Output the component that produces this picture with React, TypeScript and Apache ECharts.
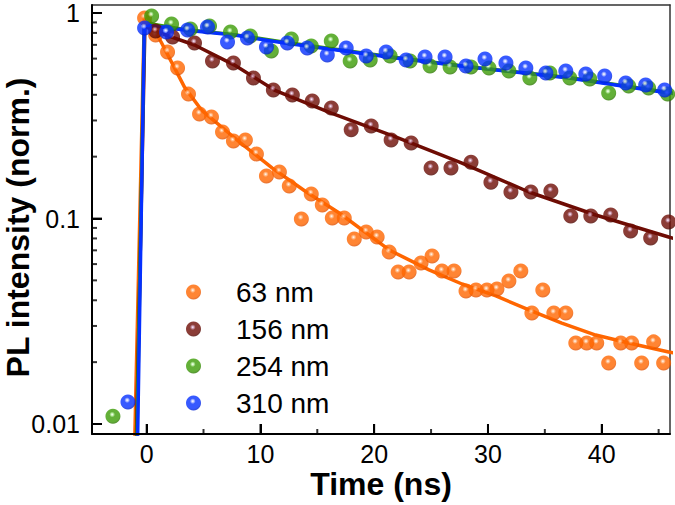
import React, { useEffect, useRef } from "react";
import * as echarts from "echarts";

// ---- Data ----
const seriesNames = ["63 nm", "156 nm", "254 nm", "310 nm"];
const seriesColors = ["#ff6600", "#6e0c04", "#3c9c06", "#0530ff"];
const seriesDark = ["#e05000", "#500600", "#2c7800", "#0020d0"];
const seriesLight = ["#ffc090", "#c890b0", "#b8f0a0", "#b8c4ff"];

const t63 = [-0.18, 0.79, 1.84, 2.72, 3.68, 4.65, 5.7, 6.67, 7.63, 8.68, 9.65, 10.53, 11.67, 12.54, 13.6, 14.47, 15.44, 16.32, 17.37, 18.25, 19.3, 20.26, 21.32, 22.11, 23.07, 24.12, 25.09, 25.96, 27.02, 28.07, 28.95, 29.91, 30.79, 31.84, 32.89, 33.86, 34.82, 35.79, 36.84, 37.72, 38.68, 39.56, 40.61, 41.67, 42.63, 43.51, 44.56, 45.44];
const i63 = [0.946, 0.781, 0.646, 0.54, 0.403, 0.3225, 0.312, 0.2636, 0.2383, 0.241, 0.206, 0.161, 0.1684, 0.1439, 0.0995, 0.1316, 0.1163, 0.1006, 0.1006, 0.0795, 0.086, 0.0813, 0.0687, 0.0549, 0.0549, 0.0607, 0.0657, 0.0555, 0.0555, 0.0444, 0.0449, 0.0449, 0.0454, 0.0496, 0.0555, 0.0347, 0.0449, 0.0347, 0.0347, 0.0248, 0.0248, 0.0248, 0.0198, 0.0248, 0.0248, 0.0198, 0.0251, 0.0198];

const t156 = [0.79, 2.28, 4.21, 5.79, 7.63, 9.39, 11.14, 12.81, 14.56, 16.23, 17.98, 19.74, 21.49, 23.25, 25.0, 26.75, 28.51, 30.26, 32.02, 33.77, 35.53, 37.28, 39.04, 40.79, 42.54, 44.3, 45.88];
const i156 = [0.817, 0.764, 0.715, 0.584, 0.571, 0.483, 0.422, 0.399, 0.373, 0.345, 0.27, 0.282, 0.241, 0.233, 0.176, 0.176, 0.188, 0.15, 0.1346, 0.1346, 0.136, 0.1028, 0.1028, 0.104, 0.0869, 0.0804, 0.0962];

const t254 = [-2.96, 0.44, 2.19, 3.86, 5.53, 7.37, 9.12, 10.96, 12.72, 14.47, 16.23, 17.89, 19.65, 21.4, 23.16, 24.91, 26.67, 28.51, 30.09, 31.84, 33.68, 35.44, 37.19, 38.95, 40.61, 42.37, 44.12, 45.79];
const i254 = [0.0109, 0.967, 0.884, 0.836, 0.864, 0.808, 0.773, 0.653, 0.747, 0.691, 0.731, 0.584, 0.59, 0.618, 0.584, 0.552, 0.546, 0.546, 0.54, 0.522, 0.483, 0.511, 0.483, 0.477, 0.408, 0.441, 0.432, 0.403];

const t310 = [-1.64, -0.18, 1.75, 3.6, 5.35, 7.11, 8.86, 10.53, 12.37, 14.12, 15.88, 17.54, 19.3, 21.05, 22.81, 24.47, 26.23, 28.07, 29.74, 31.58, 33.33, 35.09, 36.84, 38.6, 40.26, 42.11, 43.86, 45.53];
const i310 = [0.0128, 0.845, 0.808, 0.827, 0.855, 0.723, 0.756, 0.683, 0.715, 0.675, 0.625, 0.675, 0.618, 0.646, 0.59, 0.611, 0.611, 0.552, 0.597, 0.571, 0.54, 0.511, 0.522, 0.505, 0.494, 0.456, 0.446, 0.422];

// fitted curves
const fitT63 = [-1.1, -0.2, 0.09, 1.32, 3.33, 4.82, 8.16, 11.05, 14.04, 16.93, 21.32, 24.82, 27.72, 30.7, 33.6, 36.49, 39.47, 42.37, 45.88, 46.5];
const fitI63 = [0.006, 0.96, 0.956, 0.715, 0.436, 0.337, 0.2356, 0.176, 0.1346, 0.1064, 0.0703, 0.0562, 0.048, 0.042, 0.0359, 0.031, 0.0271, 0.0248, 0.0224, 0.0221];

const fitT156 = [-0.95, -0.15, 0.96, 4.21, 7.72, 11.23, 16.23, 21.93, 27.72, 33.6, 39.47, 45.88, 46.5];
const fitI156 = [0.006, 0.86, 0.808, 0.699, 0.558, 0.422, 0.326, 0.249, 0.186, 0.1346, 0.104, 0.0813, 0.0795];

const fitT254 = [-0.9, -0.2, 0.4, 3.33, 7.72, 12.11, 21.93, 28.33, 37.11, 45.88, 46.5];
const fitI254 = [0.006, 0.89, 0.885, 0.832, 0.785, 0.72, 0.607, 0.548, 0.485, 0.41, 0.405];

const fitT310 = [-0.86, -0.2, 3.33, 7.72, 12.11, 21.93, 28.33, 37.11, 45.88, 46.5];
const fitI310 = [0.005, 0.875, 0.827, 0.781, 0.715, 0.604, 0.546, 0.483, 0.408, 0.404];

const xMajorTicks = [0, 10, 20, 30, 40];
const xMinorTicks = [5, 15, 25, 35, 45];
const yMajorTicks = [0.01, 0.1, 1];
const yMinorTicks = [0.02, 0.03, 0.04, 0.05, 0.06, 0.07, 0.08, 0.09, 0.2, 0.3, 0.4, 0.5, 0.6, 0.7, 0.8, 0.9];

const X_MIN = -4.8;
const X_MAX = 46;
const Y_MIN = 0.00894;
const Y_MAX = 1.094;

const FONT = "'Liberation Sans', Arial, sans-serif";

const zip = (a: number[], b: number[]) => a.map((v, k) => [v, b[k]]);

const ball = (k: number) => ({
  type: "radial",
  x: 0.45,
  y: 0.38,
  r: 0.6,
  colorStops: [
    { offset: 0, color: "#ffffff" },
    { offset: 0.12, color: seriesLight[k] },
    { offset: 0.32, color: seriesColors[k] },
    { offset: 0.8, color: seriesColors[k] },
    { offset: 1, color: seriesDark[k] },
  ],
});

// inward tick marks, placed through the axes' own scales
const tickSeries = (name: string, data: number[][], size: number[], offset: number[]) => ({
  type: "scatter",
  name,
  data,
  symbol: "rect",
  symbolSize: size,
  symbolOffset: offset,
  itemStyle: { color: "#000" },
  silent: true,
  clip: false,
  z: 6,
});

export default function App() {
  const ref = useRef<HTMLDivElement>(null);
  useEffect(() => {
    if (!ref.current) return;
    const chart = echarts.init(ref.current, undefined, { renderer: "svg" });
    const pts = [zip(t63, i63), zip(t156, i156), zip(t254, i254), zip(t310, i310)];
    const fits = [zip(fitT63, fitI63), zip(fitT156, fitI156), zip(fitT254, fitI254), zip(fitT310, fitI310)];
    const series: any[] = [];
    fits.forEach((d, k) => {
      series.push({
        type: "line",
        name: seriesNames[k] + " fit",
        data: d,
        showSymbol: false,
        symbol: "none",
        lineStyle: { color: seriesColors[k], width: 3.5 },
        itemStyle: { color: seriesColors[k] },
        z: 2 + k * 0.01,
        silent: true,
        clip: true,
      });
    });
    pts.forEach((d, k) => {
      series.push({
        type: "scatter",
        name: seriesNames[k],
        data: d,
        symbol: "circle",
        symbolSize: 15,
        itemStyle: { color: ball(k) },
        z: 3 + k * 0.01,
        clip: true,
      });
    });
    series.push(tickSeries("xMajor", xMajorTicks.map((v) => [v, Y_MIN]), [2, 10], [0, -5]));
    series.push(tickSeries("xMinor", xMinorTicks.map((v) => [v, Y_MIN]), [2, 5], [0, -2.5]));
    series.push(tickSeries("yMajor", yMajorTicks.map((v) => [X_MIN, v]), [10, 2], [5, 0]));
    series.push(tickSeries("yMinor", yMinorTicks.map((v) => [X_MIN, v]), [5, 2], [2.5, 0]));

    const frameLine = { show: true, onZero: false, lineStyle: { color: "#333", width: 1.5 } };
    const bare = { axisTick: { show: false }, axisLabel: { show: false }, splitLine: { show: false } };
    const option: any = {
      animation: false,
      backgroundColor: "#ffffff",
      grid: {
        left: 92,
        right: 5,
        top: 5,
        bottom: 71,
        show: false,
        containLabel: false,
        outerBoundsMode: "none",
      },
      legend: {
        data: seriesNames,
        orient: "vertical",
        left: 186,
        top: 278,
        padding: 0,
        itemWidth: 15,
        itemHeight: 15,
        itemGap: 9,
        icon: "circle",
        textStyle: { fontSize: 28, fontFamily: FONT, color: "#000", padding: [0, 0, 0, 30] },
        selectedMode: false,
      },
      xAxis: [
        {
          type: "value",
          min: X_MIN,
          max: X_MAX,
          position: "bottom",
          axisLine: { show: true, onZero: false, lineStyle: { color: "#000", width: 2 } },
          axisTick: { show: true, inside: true, length: 10, lineStyle: { color: "#000", width: 2 }, customValues: xMajorTicks },
          axisLabel: { customValues: xMajorTicks, fontSize: 25, fontFamily: FONT, color: "#000", margin: 7 },
          splitLine: { show: false },
          name: "Time (ns)",
          nameLocation: "middle",
          nameGap: 34,
          nameMoveOverlap: false,
          nameTextStyle: { fontSize: 32, fontWeight: "bold", fontFamily: FONT, color: "#000" },
          z: 5,
        },
        { type: "value", min: X_MIN, max: X_MAX, position: "top", axisLine: frameLine, ...bare },
      ],
      yAxis: [
        {
          type: "log",
          logBase: 10,
          min: Y_MIN,
          max: Y_MAX,
          position: "left",
          axisLine: { show: true, onZero: false, lineStyle: { color: "#000", width: 2 } },
          axisTick: { show: true, inside: true, length: 10, lineStyle: { color: "#000", width: 2 }, customValues: yMajorTicks },
          axisLabel: {
            customValues: yMajorTicks,
            fontSize: 25,
            fontFamily: FONT,
            color: "#000",
            margin: 12,
            formatter: (v: number) => String(+(+v).toPrecision(3)),
          },
          splitLine: { show: false },
          name: "PL intensity (norm.)",
          nameLocation: "middle",
          nameGap: 58,
          nameMoveOverlap: false,
          nameTextStyle: { fontSize: 32, fontWeight: "bold", fontFamily: FONT, color: "#000", padding: [0, 16, 0, 0] },
          z: 5,
        },
        { type: "log", logBase: 10, min: Y_MIN, max: Y_MAX, position: "right", axisLine: frameLine, ...bare },
      ],
      series,
    };
    chart.setOption(option);
    return () => chart.dispose();
  }, []);
  return (
    <div
      ref={ref}
      style={{ position: "fixed", left: 0, top: 0, width: 675, height: 505, background: "#fff" }}
    />
  );
}
